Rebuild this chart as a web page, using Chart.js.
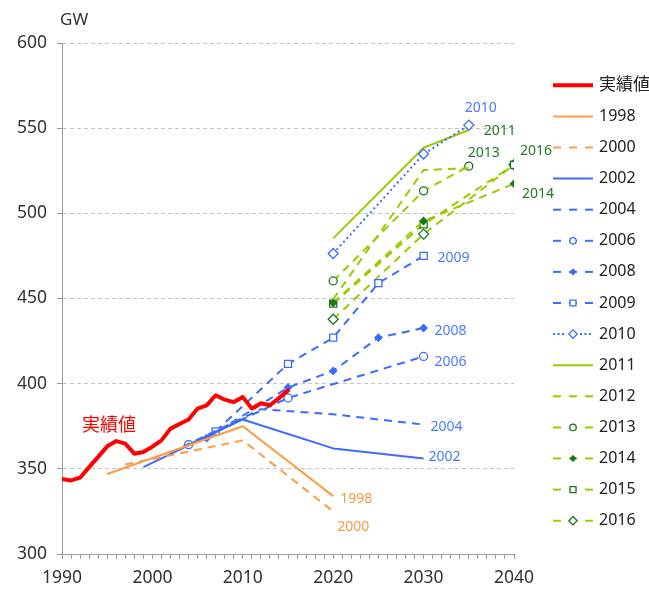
<!DOCTYPE html>
<html lang="ja">
<head>
<meta charset="utf-8">
<title>最大電力需要 実績と供給計画の想定</title>
<script src="https://cdn.jsdelivr.net/npm/chart.js@4.4.1/dist/chart.umd.min.js"></script>
<style>
  html, body { margin: 0; padding: 0; background: #fff; }
  #chart { display: block; }
</style>
</head>
<body>
<canvas id="chart" width="649" height="590"></canvas>
<script>
// 実績値
const actualYears = [1990, 1991, 1992, 1993, 1994, 1995, 1996, 1997, 1998, 1999, 2000, 2001, 2002,
                     2003, 2004, 2005, 2006, 2007, 2008, 2009, 2010, 2011, 2012, 2013, 2014, 2015];
const actualValues = [344, 343.2, 344.8, 351, 357, 363.2, 366.3, 364.8, 358.9, 359.9, 363, 366.7, 373.6,
                      376.3, 379, 385.4, 387.3, 393.2, 390.6, 389.2, 392.1, 385.4, 388.5, 387.3, 391.5, 396];

// 各年度の供給計画による想定
const plan1998Years = [1995, 2010, 2020];
const plan1998Values = [347, 375, 334];
const plan2000Years = [1997, 2010, 2020];
const plan2000Values = [352.5, 366.7, 325];
const plan2002Years = [1999, 2010, 2020, 2030];
const plan2002Values = [351, 379, 362, 356];
const plan2004Years = [2002, 2012, 2020, 2030];
const plan2004Values = [359.5, 385, 382, 376];
const plan2006Years = [2004, 2015, 2030];
const plan2006Values = [364.2, 391.6, 416];
const plan2008Years = [2006, 2015, 2020, 2025, 2030];
const plan2008Values = [368, 397.7, 407.5, 427, 432.7];
const plan2009Years = [2007, 2015, 2020, 2025, 2030];
const plan2009Values = [372, 411.6, 427, 459, 475];
const plan2010Years = [2020, 2030, 2035];
const plan2010Values = [476.4, 534.8, 551.8];
const plan2011Years = [2020, 2030, 2035];
const plan2011Values = [485.3, 538.5, 548.9];
const plan2012Years = [2020, 2030, 2035];
const plan2012Values = [449.5, 525.4, 526.5];
const plan2013Years = [2020, 2030, 2035];
const plan2013Values = [460.3, 513.2, 527.7];
const plan2014Years = [2020, 2030, 2040];
const plan2014Values = [447.5, 495.5, 517.4];
const plan2015Years = [2020, 2030, 2040];
const plan2015Values = [447, 493.5, 528.5];
const plan2016Years = [2020, 2030, 2040];
const plan2016Values = [437.8, 487.8, 528.5];

const seriesNames = ['実績値', '1998', '2000', '2002', '2004', '2006', '2008', '2009',
                     '2010', '2011', '2012', '2013', '2014', '2015', '2016'];
const seriesYears = [actualYears, plan1998Years, plan2000Years, plan2002Years, plan2004Years,
                     plan2006Years, plan2008Years, plan2009Years, plan2010Years, plan2011Years,
                     plan2012Years, plan2013Years, plan2014Years, plan2015Years, plan2016Years];
const seriesValues = [actualValues, plan1998Values, plan2000Values, plan2002Values, plan2004Values,
                      plan2006Values, plan2008Values, plan2009Values, plan2010Values, plan2011Values,
                      plan2012Values, plan2013Values, plan2014Values, plan2015Values, plan2016Values];

const xTickYears = [1990, 2000, 2010, 2020, 2030, 2040];

// 色と線種
const RED = '#ff0000';
const ORANGE = '#ff9c40';
const BLUE = '#3b6cff';
const LIME = '#99cc00';
const DKGREEN = '#1c781c';
const DASH = [8, 6];

const styles = [
    { color: RED, width: 4, dash: [] },
    { color: ORANGE, width: 2, dash: [] },
    { color: ORANGE, width: 2, dash: DASH },
    { color: BLUE, width: 2, dash: [] },
    { color: BLUE, width: 2, dash: DASH },
    { color: BLUE, width: 2, dash: DASH, point: 'circle', pointColor: BLUE, fill: '#fff', r: 4 },
    { color: BLUE, width: 2, dash: DASH, point: 'rectRot', pointColor: BLUE, fill: BLUE, r: 3.5 },
    { color: BLUE, width: 2, dash: DASH, point: 'rect', pointColor: BLUE, fill: '#fff', r: 5 },
    { color: BLUE, width: 2, dash: [2, 3], point: 'rectRot', pointColor: BLUE, fill: '#fff', r: 5 },
    { color: LIME, width: 2, dash: [] },
    { color: LIME, width: 2, dash: DASH },
    { color: LIME, width: 2, dash: DASH, point: 'circle', pointColor: DKGREEN, fill: '#fff', r: 4 },
    { color: LIME, width: 2, dash: DASH, point: 'rectRot', pointColor: DKGREEN, fill: DKGREEN, r: 3.5 },
    { color: LIME, width: 2, dash: DASH, point: 'rect', pointColor: DKGREEN, fill: '#fff', r: 5 },
    { color: LIME, width: 2, dash: DASH, point: 'rectRot', pointColor: DKGREEN, fill: '#fff', r: 5 }
];

// 線の横に置くラベル（at: 基準にする点, dx/dy: ずらす量）
const LBL_ORANGE = '#f79a45';
const LBL_BLUE = '#4a7bff';
const LBL_GREEN = '#267a26';
const lineLabels = [
    { at: 'first', dx: 20, dy: -53, color: RED, size: 18 },
    { at: 'last', dx: 7, dy: 3, color: LBL_ORANGE },
    { at: 'last', dx: 4, dy: 16, color: LBL_ORANGE },
    { at: 'last', dx: 5, dy: -2, color: LBL_BLUE },
    { at: 'last', dx: 7, dy: 2, color: LBL_BLUE },
    { at: 'last', dx: 11, dy: 6, color: LBL_BLUE },
    { at: 'last', dx: 11, dy: 3, color: LBL_BLUE },
    { at: 'last', dx: 14, dy: 2, color: LBL_BLUE },
    { at: 'last', dx: -4, dy: -17, color: LBL_BLUE },
    { at: 'last', dx: 15, dy: 1, color: LBL_GREEN },
    null,
    { at: 'last', dx: -1, dy: -13, color: LBL_GREEN },
    { at: 'last', dx: 8, dy: 10, color: LBL_GREEN },
    null,
    { at: 'last', dx: 6, dy: -14, color: LBL_GREEN }
];

const FONT = '"Noto Sans", "Noto Sans CJK JP", sans-serif';

// データセットの組み立て
const datasets = seriesNames.map((name, i) => {
    const s = styles[i];
    return {
        label: name,
        data: seriesYears[i].map((yr, j) => ({ x: yr, y: seriesValues[i][j] })),
        borderColor: s.color,
        borderWidth: s.width,
        borderDash: s.dash,
        borderCapStyle: i === 0 ? 'round' : 'butt',
        borderJoinStyle: 'round',
        tension: 0,
        fill: false,
        pointStyle: s.point || 'circle',
        pointRadius: s.point ? s.r : 0,
        pointHoverRadius: s.point ? s.r : 0,
        pointBorderColor: s.pointColor || s.color,
        pointBackgroundColor: s.fill || s.color,
        pointBorderWidth: 1.3
    };
});

// 線のラベル
const lineLabelPlugin = {
    id: 'lineLabels',
    afterDatasetsDraw(chart) {
        const ctx = chart.ctx;
        ctx.save();
        ctx.textAlign = 'left';
        ctx.textBaseline = 'middle';
        lineLabels.forEach((lbl, i) => {
            if (!lbl) return;
            const pts = chart.getDatasetMeta(i).data;
            const p = lbl.at === 'first' ? pts[0] : pts[pts.length - 1];
            ctx.font = (lbl.size || 14) + 'px ' + FONT;
            ctx.fillStyle = lbl.color;
            ctx.fillText(seriesNames[i], p.x + lbl.dx, p.y + lbl.dy);
        });
        ctx.restore();
    }
};

// マーカー描画
function drawMarker(ctx, style, x, y, r) {
    ctx.save();
    ctx.setLineDash([]);
    ctx.lineWidth = 1.3;
    ctx.strokeStyle = style.pointColor;
    ctx.fillStyle = style.fill;
    ctx.beginPath();
    if (style.point === 'circle') {
        ctx.arc(x, y, r, 0, Math.PI * 2);
    } else if (style.point === 'rect') {
        const h = r * Math.SQRT1_2;
        ctx.rect(x - h, y - h, h * 2, h * 2);
    } else {
        ctx.moveTo(x, y - r);
        ctx.lineTo(x + r, y);
        ctx.lineTo(x, y + r);
        ctx.lineTo(x - r, y);
        ctx.closePath();
    }
    ctx.fill();
    ctx.stroke();
    ctx.restore();
}

// 凡例（右側）と単位
const legendPlugin = {
    id: 'sideLegend',
    afterDraw(chart) {
        const ctx = chart.ctx;
        const x0 = 553, x1 = 593, textX = 599;
        const top = 85.3, step = 31.1;
        ctx.save();
        seriesNames.forEach((name, i) => {
            const s = styles[i];
            const y = top + step * i;
            ctx.strokeStyle = s.color;
            ctx.lineWidth = s.width;
            ctx.lineCap = 'butt';
            if (s.dash.length === 0) {
                ctx.setLineDash([]);
                ctx.beginPath();
                ctx.moveTo(x0, y);
                ctx.lineTo(x1, y);
                ctx.stroke();
            } else if (s.dash[0] < 4) {
                ctx.setLineDash([2, 2.5]);
                ctx.beginPath();
                ctx.moveTo(x0, y);
                ctx.lineTo(x1, y);
                ctx.stroke();
            } else {
                ctx.setLineDash([]);
                [0, 16, 32].forEach(off => {
                    ctx.beginPath();
                    ctx.moveTo(x0 + off, y);
                    ctx.lineTo(x0 + off + 8, y);
                    ctx.stroke();
                });
            }
            if (s.point) {
                if (s.dash[0] < 4) {
                    ctx.fillStyle = '#fff';
                    ctx.fillRect(x0 + 20 - 7, y - 6, 14, 12);
                }
                drawMarker(ctx, s, (x0 + x1) / 2, y, s.r - 0.8);
            }
            ctx.setLineDash([]);
            ctx.font = (i === 0 ? '17px ' : '16px ') + FONT;
            ctx.fillStyle = '#222';
            ctx.textAlign = 'left';
            ctx.textBaseline = 'middle';
            ctx.fillText(name, textX, y);
        });
        ctx.font = '17px ' + FONT;
        ctx.fillStyle = '#333';
        ctx.fillText('GW', 60, 20);
        ctx.restore();
    }
};

new Chart(document.getElementById('chart'), {
    type: 'line',
    data: { datasets: datasets },
    plugins: [lineLabelPlugin, legendPlugin],
    options: {
        responsive: false,
        devicePixelRatio: 1,
        animation: false,
        layout: { padding: { top: 43, right: 135, left: 0, bottom: 0 } },
        plugins: {
            legend: { display: false },
            tooltip: { enabled: false }
        },
        scales: {
            x: {
                type: 'linear',
                min: 1990,
                max: 2040,
                afterFit: scale => { scale.height = 36; },
                ticks: {
                    stepSize: 1,
                    autoSkip: false,
                    maxRotation: 0,
                    padding: 9,
                    color: '#333',
                    font: { family: FONT, size: 17.5 },
                    callback: v => xTickYears.includes(v) ? String(v) : ''
                },
                grid: {
                    drawOnChartArea: false,
                    drawTicks: true,
                    tickLength: 5,
                    color: '#9a9a9a'
                },
                border: { display: true, color: '#9a9a9a', width: 1 }
            },
            y: {
                min: 300,
                max: 600,
                afterFit: scale => { scale.width = 62; },
                ticks: {
                    stepSize: 50,
                    padding: 10,
                    color: '#333',
                    font: { family: FONT, size: 17.5 }
                },
                grid: {
                    color: '#c4c4c4',
                    drawTicks: true,
                    tickLength: 5,
                    tickColor: '#9a9a9a',
                    tickBorderDash: []
                },
                border: { display: true, color: '#9a9a9a', width: 1, dash: [4, 3] }
            }
        }
    }
});
</script>
</body>
</html>
